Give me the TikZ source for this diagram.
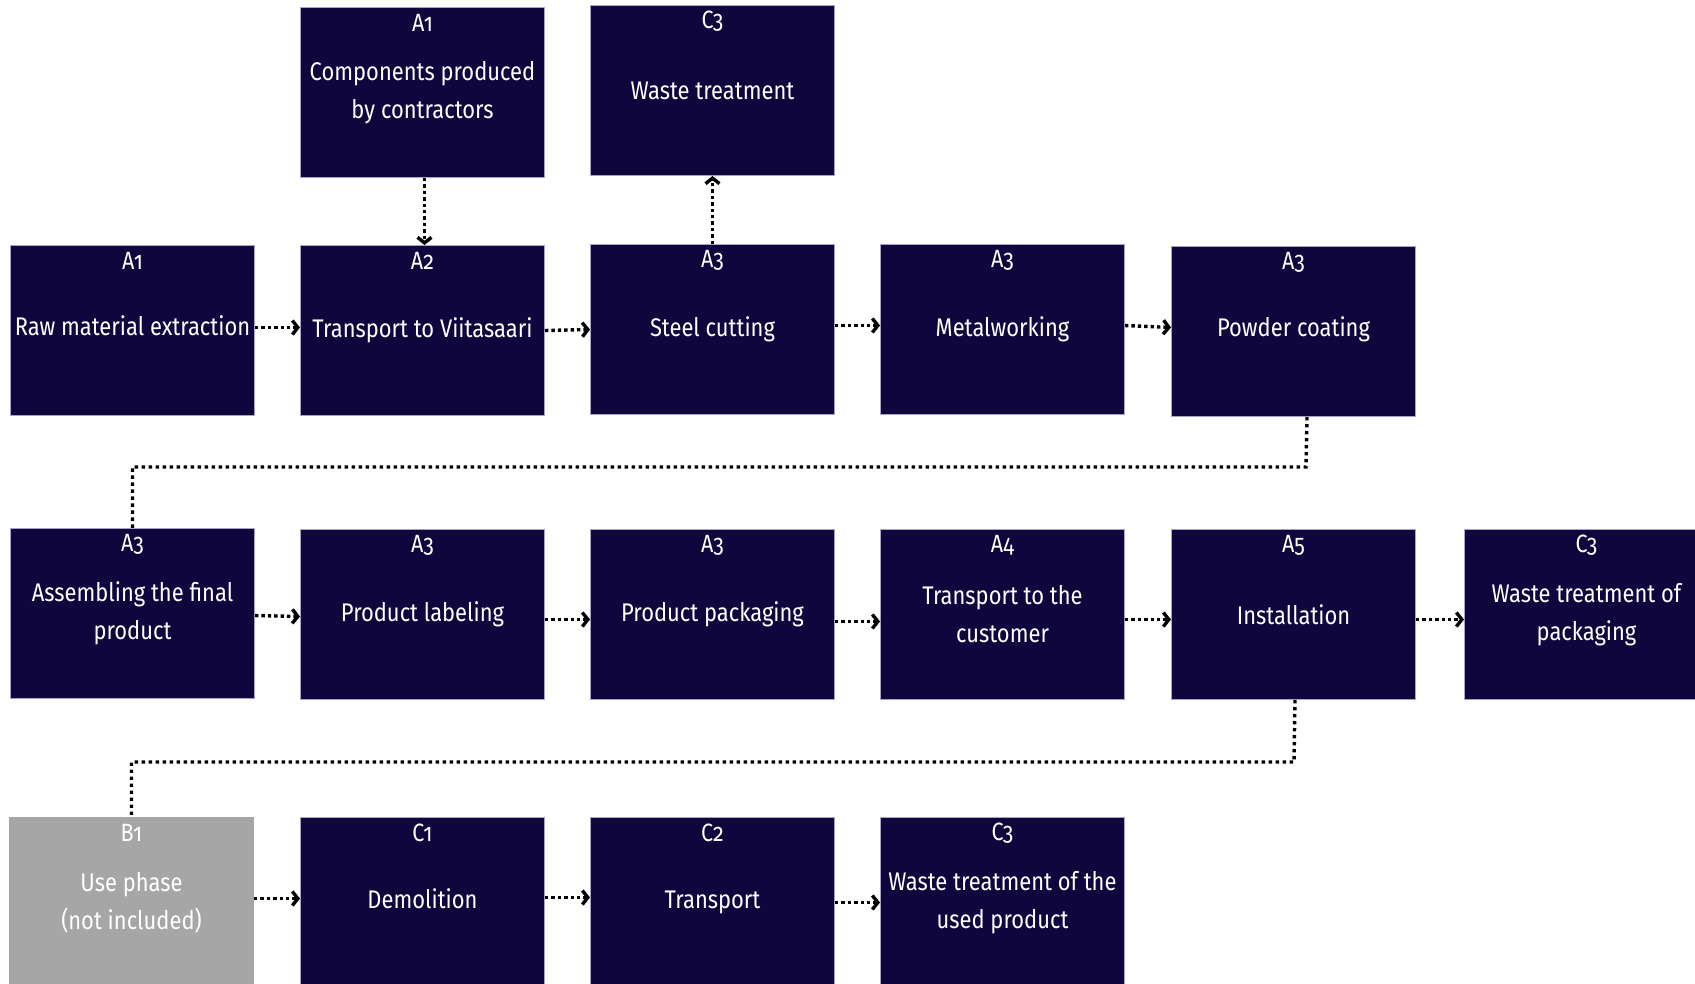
\documentclass[tikz,border=0pt]{standalone}
\usepackage{fontspec}
\setmainfont{Fira Sans}[FakeStretch=0.86, Numbers=OldStyle]
\usetikzlibrary{arrows.meta}
\definecolor{navy}{RGB}{15,6,62}
\definecolor{navyedge}{RGB}{168,162,200}
\definecolor{greybox}{RGB}{166,166,166}
\tikzset{
  stage/.style={draw=navyedge, line width=1pt, fill=navy, text=white,
    minimum width=244pt, minimum height=170pt, anchor=north west,
    inner sep=0pt, align=center, font=\fontsize{25.5}{38}\selectfont},
  greystage/.style={stage, fill=greybox, draw=greybox},
  code/.style={text=white, inner sep=0pt, anchor=center, font=\fontsize{25}{28}\selectfont},
  flow/.style={line width=3.4pt, dash pattern=on 3.4pt off 3pt,
    -{Straight Barb[length=5.5pt,width=14pt]}},
  link/.style={line width=3.4pt, dash pattern=on 3.4pt off 3.6pt}
}
\begin{document}
\begin{tikzpicture}[x=1pt,y=-1pt]
\useasboundingbox (0,0) rectangle (1695,983);
% row 0
\node[stage] (comp) at (300,7) {Components produced\\by contractors};
\node[stage] (wt) at (590,5) {Waste treatment};
% row 1
\node[stage] (raw) at (10,245) {Raw material extraction\rule[-9pt]{0pt}{1pt}};
\node[stage] (tv) at (300,245) {Transport to Viitasaari\rule[-4pt]{0pt}{1pt}};
\node[stage] (cut) at (590,244) {Steel cutting};
\node[stage] (metal) at (880,244) {Metalworking};
\node[stage] (powder) at (1171,246) {Powder coating\rule[-9pt]{0pt}{1pt}};
% row 2
\node[stage] (asm) at (10,528) {Assembling the final\\product};
\node[stage] (label) at (300,529) {Product labeling};
\node[stage] (pack) at (590,529) {Product packaging};
\node[stage] (tc) at (880,529) {Transport to the\\customer};
\node[stage] (inst) at (1171,529) {Installation};
\node[stage] (wtp) at (1464,529) {Waste treatment of\\packaging};
% row 3
\node[greystage] (use) at (9,817) {Use phase\\(not included)};
\node[stage] (dem) at (300,817) {Demolition\rule[-8pt]{0pt}{1pt}};
\node[stage] (tr) at (590,817) {Transport};
\node[stage] (wtu) at (880,817) {Waste treatment of the\\used product};
% codes
\foreach \n/\c in {comp/A1, wt/C3, raw/A1, tv/A2, cut/A3, metal/A3, powder/A3,
  asm/A3, label/A3, pack/A3, tc/A4, inst/A5, wtp/C3, use/B1, dem/C1, tr/C2, wtu/C3}
  \node[code] (\n-code) at ([yshift=-16pt]\n.north) {\c};
% connectors
\draw[flow] ([xshift=2pt]comp.south) -- ([xshift=2pt]tv.north);
\draw[flow] (cut.north) -- (wt.south);
\draw[flow] ([yshift=3pt]raw.east) -- ([yshift=3pt]tv.west);
\draw[flow] ([yshift=0pt]tv.east) -- ([yshift=0pt]cut.west);
\draw[flow] ([yshift=4pt]cut.east) -- ([yshift=4pt]metal.west);
\draw[flow] ([yshift=4pt]metal.east) -- ([yshift=4pt]powder.west);
\draw[flow] ([yshift=-2pt]asm.east) -- ([yshift=-2pt]label.west);
\draw[flow] ([yshift=-5pt]label.east) -- ([yshift=-5pt]pack.west);
\draw[flow] ([yshift=-7pt]pack.east) -- ([yshift=-7pt]tc.west);
\draw[flow] ([yshift=-5pt]tc.east) -- ([yshift=-5pt]inst.west);
\draw[flow] ([yshift=-5pt]inst.east) -- ([yshift=-5pt]wtp.west);
\draw[flow] ([yshift=4pt]use.east) -- ([yshift=4pt]dem.west);
\draw[flow] ([yshift=5pt]dem.east) -- ([yshift=5pt]tr.west);
\draw[flow] ([yshift=0pt]tr.east) -- ([yshift=0pt]wtu.west);
\coordinate (bend1) at (1306,467);
\coordinate (bend2) at (1294,762);
\draw[link] ([xshift=13.5pt]powder.south) -- (bend1) -| (asm.north);
\draw[link] ([xshift=1.5pt]inst.south) -- (bend2) -| (use.north);
\end{tikzpicture}
\end{document}
